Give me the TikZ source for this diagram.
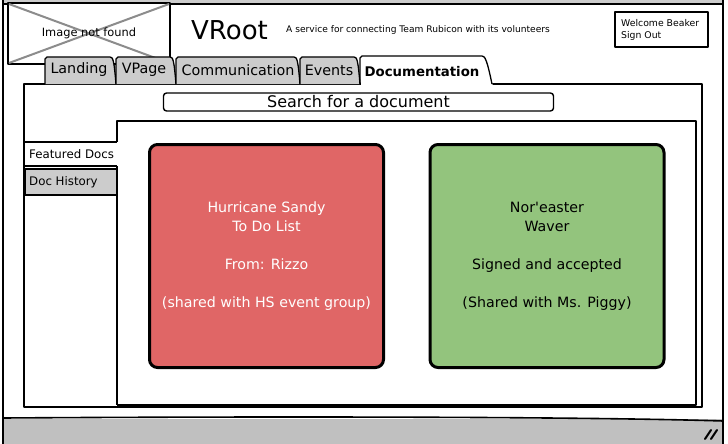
\documentclass[tikz,border=0pt]{standalone}
\usepackage{fontspec}
\setmainfont{DejaVu Sans}
\definecolor{tabgrey}{RGB}{204,204,204}
\definecolor{bargrey}{RGB}{192,192,192}
\definecolor{cardred}{RGB}{224,102,102}
\definecolor{cardgreen}{RGB}{147,196,125}
\definecolor{crossgrey}{RGB}{140,140,140}
\begin{document}
\begin{tikzpicture}[x=1pt,y=-1pt,line join=round,
  ln/.style={draw=black,line width=1.6pt},
  thin/.style={draw=black,line width=1.3pt},
  tabshape/.style={draw=black,line width=1.3pt,fill=tabgrey},
  lbl/.style={inner sep=0pt,text=black},
  tabtext/.style={lbl,font=\fontsize{14.3}{16}\selectfont},
  card/.style={draw=black,line width=3pt,rounded corners=8pt,minimum width=234pt,minimum height=223pt,align=center,inner sep=0pt,font=\fontsize{14.2}{19}\selectfont}]
\useasboundingbox (0,0) rectangle (728,444);
\fill[white] (0,0) rectangle (728,444);
% window
\fill[tabgrey] (3,0) rectangle (723,4);
\fill[bargrey] (3,419) rectangle (723,444);
\draw[ln] (3,4) -- (723,4);
\draw[ln] (3,0) -- (3,444);
\draw[ln] (723,0) -- (723,444);
\draw[ln] (3,418) .. controls (300,416) and (600,417) .. (723,421);
\draw[line width=2pt,line cap=round] (705,439) -- (711,430);
\draw[line width=2pt,line cap=round] (711,439) -- (717,430);
% image placeholder
\draw[ln,fill=white] (8,3) rectangle (170,64);
\draw[crossgrey,line width=2pt] (9,4) -- (169,63);
\draw[crossgrey,line width=2pt] (9,63) -- (169,4);
\node[lbl,font=\fontsize{11.4}{13}\selectfont] (img) at (89,33) {Image not found};
% header
\node[lbl,anchor=base west,font=\fontsize{26}{30}\selectfont] (title) at (191,40) {VRoot};
\node[lbl,anchor=west,font=\fontsize{9.1}{10}\selectfont] (sub) at (286,30) {A service for connecting Team Rubicon with its volunteers};
\draw[ln] (615,12) rectangle (708,47);
\node[lbl,anchor=west,font=\fontsize{9.3}{10}\selectfont] (welcome) at (621,23) {Welcome Beaker};
\node[lbl,anchor=west,font=\fontsize{9.3}{10}\selectfont] (signout) at (621,36) {Sign Out};
% tab panel
\draw[ln] (24,84) rectangle (702,407);
% tabs
\draw[tabshape] (45,84) -- (45,59) -- (47,57) -- (110,57) .. controls (113,57) and (114,60) .. (116,84);
\draw[tabshape] (116,84) -- (116,59) -- (118,57) -- (170,57) .. controls (173,57) and (174,60) .. (176,84);
\draw[tabshape] (176,84) -- (176,59) -- (178,57) -- (294,57) .. controls (297,57) and (298,60) .. (300,84);
\draw[tabshape] (300,84) -- (300,59) -- (302,57) -- (354,57) .. controls (357,57) and (358,60) .. (360,84);
\fill[white] (361,56) -- (484,56) -- (493,86) -- (361,86) -- cycle;
\draw[thin] (360,84) -- (360,58) -- (362,56) -- (482,56) .. controls (485,56) and (487,60) .. (492,84);
\node[tabtext] (tLanding) at (79,70) {Landing};
\node[tabtext] (tVPage) at (144,70) {VPage};
\node[tabtext] (tComm) at (238,70) {Communication};
\node[tabtext] (tEvents) at (329,70) {Events};
\node[lbl,font=\bfseries\fontsize{13.3}{15}\selectfont] (tDoc) at (422,71.5) {Documentation};
% search
\node[draw=black,line width=1.4pt,rounded corners=3pt,minimum width=390pt,minimum height=18pt,inner sep=0pt,font=\fontsize{16}{17}\selectfont] (search) at (358.5,102) {Search for a document};
% vertical tabs panel
\draw[ln] (117,142) -- (117,121) -- (696,121) -- (696,405) -- (117,405);
\draw[ln] (117,166) -- (117,405);
\draw[thin] (25,142) -- (117,142);
\draw[thin] (25,166) -- (117,166);
\draw[thin,fill=tabgrey] (25,169) rectangle (117,195);
\node[lbl,anchor=west,font=\fontsize{11.8}{13}\selectfont] (featured) at (29,154) {Featured Docs};
\node[lbl,anchor=west,font=\fontsize{11.8}{13}\selectfont] (history) at (29,182) {Doc History};
% cards
\node[card,fill=cardred,text=white] (red) at (266.5,256) {Hurricane Sandy\\To Do List\\[19pt]From: Rizzo\\[19pt](shared with HS event group)};
\node[card,fill=cardgreen,text=black] (green) at (547,256) {Nor\textquotesingle easter\\Waver\\[19pt]Signed and accepted\\[19pt](Shared with Ms. Piggy)};
\end{tikzpicture}
\end{document}
